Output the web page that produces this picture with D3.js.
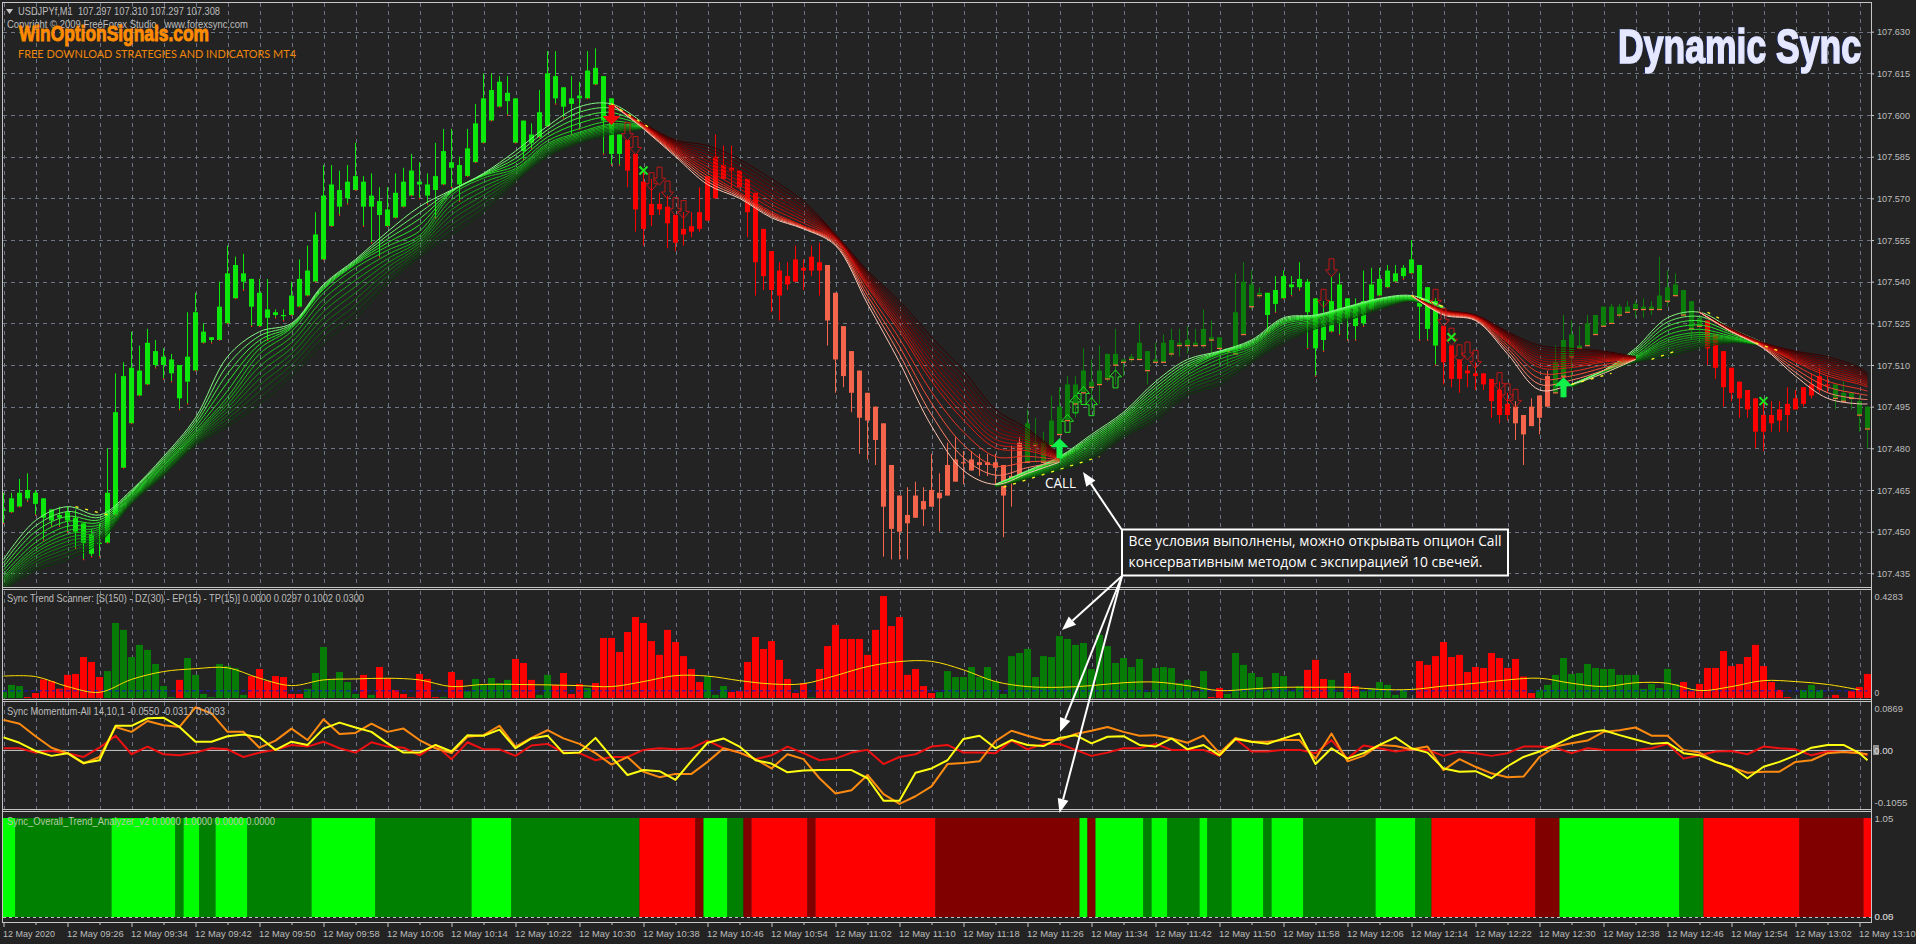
<!DOCTYPE html>
<html><head><meta charset="utf-8">
<script src="https://cdnjs.cloudflare.com/ajax/libs/d3/7.8.5/d3.min.js"></script>
<style>html,body{margin:0;padding:0;background:#232323;overflow:hidden}svg{display:block}text{font-family:"Liberation Sans",sans-serif}</style>
</head><body><svg id="c" width="1916" height="944"></svg>
<script>
// ---------- main chart data: prices in thousandths above 107.000 ----------
const candleTop=[458,462,464,465,464,462,458,456,457,455,
453,449,446,464,493,506,509,508,518,515,
513,512,510,513,529,522,520,531,543,546,
543,541,536,530,529,528,535,541,544,557,
571,575,573,576,578,576,571,569,566,572,
576,580,576,575,578,587,583,582,588,597,
606,609,612,608,606,598,593,601,615,614,
610,606,607,616,617,614,606,593,591,586,
576,568,568,567,564,559,560,565,578,585,
582,581,580,577,572,559,551,544,542,548,
545,549,547,546,536,524,515,508,500,495,
489,474,463,456,463,461,465,464,474,476,
475,476,475,475,475,474,470,482,489,482,
482,490,495,503,503,508,504,508,514,514,
512,513,518,515,512,518,519,518,519,518,
523,520,520,516,529,540,539,536,536,537,
542,539,541,540,534,526,533,539,534,531,
533,539,541,544,543,545,548,546,538,533,
524,517,512,508,507,507,505,501,496,495,
492,495,499,506,511,519,521,517,525,528,
531,531,531,531,532,531,531,535,538,539,
537,533,527,526,521,515,509,504,501,498,
492,492,494,496,498,502,503,506,503,503,
500,500,497,495];
const candleBottom=[458,457,459,462,460,455,454,455,454,450,
446,442,446,446,456,473,489,499,503,510,
510,507,498,504,508,518,519,519,525,534,
540,531,524,527,528,528,528,531,535,540,
548,560,567,570,573,567,567,564,560,563,
567,571,575,571,573,575,581,575,578,583,
590,598,603,605,590,587,590,592,596,606,
603,604,606,606,611,598,586,586,580,566,
559,564,566,561,554,557,558,559,562,570,
577,580,574,565,547,542,537,535,539,540,
544,544,544,526,512,506,500,491,490,483,
459,451,450,453,455,458,459,462,463,468,
475,472,474,474,473,463,468,470,475,481,
475,481,485,490,496,500,502,503,505,510,
511,512,512,508,511,511,514,517,517,517,
517,519,516,515,514,521,531,535,528,532,
534,538,538,529,516,519,522,525,527,524,
525,530,535,538,540,542,543,531,523,517,
511,505,505,507,506,503,497,492,492,489,
485,488,491,495,500,506,513,516,517,521,
524,525,528,529,530,530,530,530,533,535,
528,523,524,516,509,502,500,498,494,486,
486,489,490,492,494,496,499,501,503,498,
497,498,492,487];
const candleHigh=[464,464,469,471,465,462,458,459,459,458,
453,451,453,480,507,511,522,517,523,519,
516,514,510,529,536,525,520,540,553,549,
550,541,541,541,530,530,540,548,553,565,
582,582,580,582,590,578,579,574,574,579,
581,586,583,579,590,595,595,585,595,604,
615,615,614,614,606,598,597,609,623,623,
610,614,612,623,624,614,606,593,591,586,
580,577,572,571,564,565,565,574,578,593,
589,589,580,577,572,559,551,547,547,553,
548,553,554,546,536,524,515,508,500,495,
489,474,463,466,468,466,478,471,482,484,
479,479,478,478,478,474,481,484,494,491,
486,499,502,506,506,516,512,517,514,523,
512,514,525,515,518,521,523,523,524,523,
530,526,520,516,543,547,544,538,536,542,
544,542,547,541,534,533,542,543,534,534,
544,545,545,546,546,546,555,546,538,534,
524,517,512,510,511,507,505,504,500,497,
492,498,499,508,517,528,526,524,528,528,
531,532,532,533,533,534,533,549,544,543,
537,533,527,526,521,515,509,504,501,498,
497,497,497,502,501,502,507,509,506,503,
504,500,499,495];
const candleLow=[453,457,459,461,456,447,452,452,450,444,
440,441,441,446,456,473,489,499,503,509,
505,504,494,496,508,518,518,519,525,534,
537,524,524,519,527,526,528,531,535,540,
548,560,564,568,573,560,554,549,560,563,
567,571,570,568,563,575,574,569,578,583,
590,598,603,600,590,584,588,592,596,604,
599,593,595,606,611,586,582,582,574,558,
553,560,564,552,551,553,556,558,562,570,
577,574,574,556,535,537,529,526,537,540,
537,542,535,517,500,502,493,478,476,474,
441,440,440,440,455,452,459,450,463,468,
467,472,470,470,467,448,459,470,475,475,
475,481,485,490,491,500,494,496,504,503,
506,511,512,503,511,511,513,513,514,517,
516,514,510,510,514,521,530,534,522,529,
534,535,537,516,506,515,522,521,519,519,
524,530,535,538,540,541,543,519,519,510,
503,502,500,502,501,501,491,489,490,483,
474,488,485,495,500,498,505,516,517,521,
524,525,527,529,527,527,528,530,531,535,
528,519,519,510,505,495,497,491,491,480,
479,486,486,486,494,495,498,500,500,494,
497,494,486,480];
// first bar of each run and its state: 0 bright green, 1 dark green, 2 red, 3 salmon
const candleStateStart=[0,78,103,128,158,180,189,194,213,229];
const candleStateCode=[0,2,3,1,0,2,3,1,2,1];

// ribbon envelope read at every 4th bar (null = not drawn)
const ribbonBars=[0,4,8,12,16,20,24,28,32,36,40,44,48,52,56,60,64,68,72,76,80,84,88,92,96,100,104,108,112,116,120,124,128,132,136,140,144,148,152,156,160,164,168,172,176,180,184,188,192,196,200,204,208,212,216,220,224,228,232,233];
const greenRibbonFast=[440,454,459,456,465,477,491,513,522,525,539,548,558,567,573,579,587,596,603,604,597,
null,null,null,null,null,null,null,null,null,null,
467,472,477,485,493,504,512,515,519,527,528,531,534,535,531,null,null,null,503,508,516,527,529,523,518,null,null,null,null];
const greenRibbonWaist=[434,445,451,452,463,474,486,499,515,523,537,546,552,557,572,578,581,590,594,597,596,
null,null,null,null,null,null,null,null,null,null,
467,471,476,482,490,499,508,514,517,525,527,530,533,534,530,null,null,null,503,508,513,520,522,520,517,null,null,null,null];
const greenRibbonSlow=[429,436,440,446,460,470,481,488,496,506,518,527,539,549,557,565,576,585,590,593,595,
null,null,null,null,null,null,null,null,null,null,
466,469,472,476,484,490,499,503,511,518,523,526,530,533,529,null,null,null,502,507,511,513,516,518,517,null,null,null,null];
const redRibbonSlow=[null,null,null,null,null,null,null,null,null,null,null,null,null,null,null,null,null,null,null,
604,597,591,589,584,577,569,557,544,533,520,508,494,487,478,
null,null,null,null,null,null,null,null,null,null,
535,530,528,522,517,516,515,513,null,529,523,518,515,513,509,507];
const redRibbonWaist=[null,null,null,null,null,null,null,null,null,null,null,null,null,null,null,null,null,null,null,
604,596,587,579,572,565,560,555,538,522,504,490,480,479,476,
null,null,null,null,null,null,null,null,null,null,
535,529,527,518,509,509,511,512,null,529,522,517,511,506,503,502];
const redRibbonFast=[null,null,null,null,null,null,null,null,null,null,null,null,null,null,null,null,null,null,null,
604,595,585,575,570,563,559,553,532,511,488,472,467,471,475,
null,null,null,null,null,null,null,null,null,null,
535,528,526,514,501,503,507,512,null,529,522,516,506,498,496,496];
// yellow change-of-trend dashes
const flashFromBar=[9,76,125,176,196,206,213,219];
const flashToBar=[13,81,137,180,201,209,215,222];
const flashFromPrice=[459,604,466,535,503,512,529,518];
const flashToPrice=[456,595,477,531,507,515,526,515];

// signal arrows
const bigUpBars=[132,195], bigUpPrices=[480,502];
const bigDownBars=[76], bigDownPrices=[600];
const hollowUpBars=[133,134,135,136,139], hollowUpPrices=[489,496,499,495,505];
const hollowDownBars=[78,79,81,82,83,84,85,165,166,179,180,181,182,183,184,187,188,189];
const hollowDownPrices=[594,589,576,578,573,567,566,534,545,534,527,520,514,515,512,504,500,498];
const crossBars=[80,181,220], crossPrices=[580,520,497];

// Sync Trend Scanner histogram
const scannerValues=[.027,.055,.050,.004,.021,.078,.071,.039,.097,.101,
.172,.151,.088,.113,.315,.286,.172,.223,.202,.143,
.050,.004,.076,.168,.097,.017,.004,.143,.134,.125,
.013,.092,.122,.071,.092,.088,.017,.017,.038,.105,
.214,.080,.109,.067,.017,.097,.013,.130,.084,.034,
.017,.003,.101,.080,.004,.004,.109,.076,.029,.080,
.055,.084,.063,.076,.164,.147,.076,.013,.097,.055,
.105,.017,.059,.042,.063,.252,.252,.193,.277,.340,
.315,.239,.181,.286,.235,.176,.122,.067,.092,.013,
.050,.025,.029,.151,.256,.206,.239,.160,.080,.021,
.063,.003,.122,.218,.307,.248,.248,.248,.181,.286,
.428,.302,.340,.097,.122,.050,.021,.025,.113,.088,
.088,.130,.088,.130,.071,.017,.176,.189,.206,.088,
.176,.172,.260,.248,.223,.231,.122,.265,.218,.147,
.168,.130,.164,.025,.126,.130,.126,.063,.076,.029,
.113,.004,.042,.017,.189,.139,.105,.088,.034,.105,
.092,.029,.050,.118,.160,.080,.076,.025,.105,.050,
.029,.042,.067,.055,.013,.034,.001,.155,.139,.176,
.235,.172,.181,.109,.130,.126,.189,.168,.126,.164,
.090,.021,.034,.055,.097,.168,.101,.105,.143,.126,
.122,.122,.097,.097,.097,.038,.059,.042,.122,.059,
.067,.029,.059,.126,.126,.197,.134,.143,.172,.223,
.134,.067,.034,.004,.001,.034,.055,.034,.001,.013,
.001,.029,.046,.101];
// first bar of each run, alternating green / red, beginning green
const scannerRunStart=[0,3,13,22,23,31,38,45,46,47,55,56,58,64,67,69,73,74,88,91,101,102,117,151,153,163,166,168,170,177,192,210,224,228];
const scannerSignal=[.092,.090,.048,.024,.078,.111,.123,.127,.083,.052,.076,.080,.083,.076,.048,.057,.057,.055,.052,.048,.069,.094,.092,.073,.059,.060,.094,.132,.153,.154,.118,.069,.048,.045,.052,.064,.067,.052,.031,.038,.045,.045,.045,.036,.036,.050,.062,.076,.083,.062,.048,.064,.062,.031,.048,.073,.069,.057,.034];
const scannerLevel=[0.03];

// Sync Momentum-All, read at every 2nd bar plus the last bar (thousandths)
const momentumYellow=[24,14,-1,-10,-5,-23,-18,45,45,59,60,43,16,16,26,29,24,1,16,10,40,51,42,34,13,-4,-4,10,-2,28,27,38,4,22,27,-5,-4,23,-12,-45,
-36,-38,-54,-19,14,22,7,-18,-24,-40,-37,-36,-36,-36,-51,-92,-92,-41,-33,-18,21,27,4,19,10,8,23,28,13,25,26,10,7,22,2,10,-9,21,16,12,
22,31,-25,4,-15,-5,10,24,4,-4,-33,-39,-38,-51,-29,-12,-2,10,25,34,37,28,20,12,14,-5,-9,-21,-30,-51,-30,-21,-9,5,10,10,-5,-18];
const momentumOrange=[56,49,26,5,-5,-24,-12,43,34,54,46,43,79,68,34,34,5,18,40,19,57,30,32,49,34,40,19,4,-5,25,28,45,7,23,37,22,12,-5,-26,-12,
-39,-49,-43,-43,-21,4,-4,-16,-33,-7,-16,-51,-79,-73,-45,-80,-98,-84,-66,-25,-23,-20,17,36,27,19,19,30,36,43,34,27,28,22,14,27,-5,23,16,16,
19,19,-15,31,-20,-10,10,8,2,7,-36,-16,-30,-42,-49,-48,-12,7,13,18,34,37,42,27,27,1,-4,-21,-31,-41,-39,-39,-21,-18,-5,-3,-5,-7];
const momentumRed=[4,4,-4,-1,-5,-12,5,27,-7,7,-7,-9,-4,4,2,-12,-4,1,10,7,16,4,-4,15,7,5,-9,10,-16,15,2,2,-10,9,12,-4,-5,-18,-12,-12,
1,4,2,4,18,4,-4,-16,-9,7,-5,-18,-15,-4,1,-25,-12,-7,7,10,-4,-4,-5,18,2,12,12,1,-10,-4,4,4,12,1,1,1,-10,21,-2,-2,
1,1,-5,19,-15,9,4,-2,2,1,-10,-2,-5,-10,-5,7,7,5,-5,4,1,1,1,4,12,-15,-9,-2,-1,-7,7,4,2,-9,-2,-3,-4,-9];

// Sync_Overall_Trend_Analyzer: first bar of each block and its colour code
const trendStart=[0,2,14,22,23,25,27,31,39,47,59,64,80,87,88,91,93,94,101,102,117,135,136,137,143,144,146,150,151,154,158,159,163,172,177,179,192,195,210,213,225,233];
const trendCode=[0,1,0,1,0,1,0,1,0,1,0,1,2,3,0,1,3,2,3,2,3,0,3,0,1,0,1,0,1,0,1,0,1,0,1,2,3,0,1,2,3,2];

const priceTicks=[630,615,600,585,570,555,540,525,510,495,480,465,450,435];
const timeLabels=["12 May 2020","12 May 09:26","12 May 09:34","12 May 09:42","12 May 09:50","12 May 09:58","12 May 10:06","12 May 10:14","12 May 10:22","12 May 10:30","12 May 10:38","12 May 10:46","12 May 10:54","12 May 11:02","12 May 11:10","12 May 11:18","12 May 11:26","12 May 11:34","12 May 11:42","12 May 11:50","12 May 11:58","12 May 12:06","12 May 12:14","12 May 12:22","12 May 12:30","12 May 12:38","12 May 12:46","12 May 12:54","12 May 13:02","12 May 13:10"];

// ---------- scales ----------
const W=1916,H=944,axisX=1871;
const svg=d3.select("#c");
const barCount=candleTop.length;
const x=d3.scaleLinear().domain([0,barCount-1]).range([3.5,3.5+8*(barCount-1)]);
const y=d3.scaleLinear().domain([435,630]).range([573.3,31.7]);
const yScan=d3.scaleLinear().domain([0,.4283]).range([698,596]);
const yMom=d3.scaleLinear().domain([-105.5,86.9]).range([808,703]);
const yTrend=d3.scaleLinear().domain([0,1]).range([917,818]);
const bars=d3.range(barCount);
const GRID="#6c7684",AX="#c6c6c6",TXT="#bdbdbd",CW=4.72,AF=9.6;

svg.append("rect").attr("width",W).attr("height",H).attr("fill","#232323");
const defs=svg.append("defs");
defs.append("clipPath").attr("id","mainClip").append("rect").attr("x",3).attr("y",3).attr("width",axisX-3).attr("height",584);
defs.append("clipPath").attr("id","rightClip").append("rect").attr("x",3).attr("y",0).attr("width",axisX-3).attr("height",H);

// ---------- grid ----------
const grid=svg.append("g").attr("stroke",GRID).attr("stroke-width",1).attr("stroke-dasharray","4 4");
const gridBars=bars.filter(k=>k%4===0);
[[3,587],[591,699],[702,809]].forEach(([a,b])=>{
  grid.append("g").selectAll("line").data(gridBars).join("line").attr("x1",k=>Math.round(x(k))+.5).attr("x2",k=>Math.round(x(k))+.5).attr("y1",a).attr("y2",b);
});
grid.append("g").selectAll("line").data(priceTicks).join("line").attr("x1",3).attr("x2",axisX).attr("y1",v=>Math.round(y(v))+.5).attr("y2",v=>Math.round(y(v))+.5);

// ---------- candles ----------
const stateOf=k=>{let s=0;candleStateStart.forEach((b,i)=>{if(k>=b)s=candleStateCode[i]});return s};
const candleColor=["#0ce80c","#0a7d0a","#ff0000","#f4654c"];
const main=svg.append("g").attr("clip-path","url(#mainClip)");
main.append("g").selectAll("line").data(bars).join("line")
  .attr("x1",k=>x(k)).attr("x2",k=>x(k)).attr("y1",k=>y(candleHigh[k])).attr("y2",k=>y(candleLow[k]))
  .attr("stroke",k=>candleColor[stateOf(k)]).attr("stroke-width",1);
main.append("g").selectAll("rect").data(bars).join("rect")
  .attr("x",k=>x(k)-2.5).attr("width",5)
  .attr("y",k=>y(candleTop[k])).attr("height",k=>Math.max(1.2,y(candleBottom[k])-y(candleTop[k])))
  .attr("fill",k=>candleColor[stateOf(k)]);
// coloured foot of the green candles
main.append("g").selectAll("rect").data(bars.filter(k=>stateOf(k)===0)).join("rect")
  .attr("x",k=>x(k)-.5).attr("width",1.2).attr("y",k=>y(candleLow[k])-.5).attr("height",1.4).attr("fill","#ff2020");
main.append("g").selectAll("rect").data(bars.filter(k=>stateOf(k)===1)).join("rect")
  .attr("x",k=>x(k)-2.5).attr("width",5).attr("y",k=>y(candleBottom[k])-.5).attr("height",1.2).attr("fill","#ff7040");

// ---------- ribbons ----------
const ribbonLines=14;
const greenRamp=d3.scaleLinear().domain([0,.22,.6,1]).range(["#86f886","#28ea28","#129a12","#0a3a0a"]);
const redRamp=d3.scaleLinear().domain([0,.35,.7,.88,1]).range(["#3a0000","#8c0000","#e01a10","#ff5a40","#ffc6b4"]);
function drawRibbon(a,w,b,ramp,tw){
  const g=main.append("g").attr("fill","none").attr("stroke-width",1);
  const at=(j,t)=>t<tw?a[j]+(w[j]-a[j])*t/tw:w[j]+(b[j]-w[j])*(t-tw)/(1-tw);
  d3.range(ribbonLines).forEach(i=>{
    const t=i/(ribbonLines-1);
    const line=d3.line().defined(j=>a[j]!==null).x(j=>x(ribbonBars[j])).y(j=>y(at(j,t))).curve(d3.curveCatmullRom.alpha(.5));
    g.append("path").attr("d",line(d3.range(ribbonBars.length))).attr("stroke",ramp(t));
  });
}
drawRibbon(greenRibbonSlow,greenRibbonWaist,greenRibbonFast,t=>greenRamp(1-t),.65);
drawRibbon(redRibbonSlow,redRibbonWaist,redRibbonFast,redRamp,.7);
main.append("g").selectAll("line").data(flashFromBar.map((b,i)=>i)).join("line")
  .attr("x1",i=>x(flashFromBar[i])).attr("x2",i=>x(flashToBar[i])).attr("y1",i=>y(flashFromPrice[i])).attr("y2",i=>y(flashToPrice[i]))
  .attr("stroke","#ffff20").attr("stroke-width",1.3).attr("stroke-dasharray","3 7");

// ---------- signal arrows ----------
const upHollow="M0,-9 L6,-2 L2.5,-2 L2.5,9 L-2.5,9 L-2.5,-2 L-6,-2 Z";
const dnHollow="M0,9 L6,2 L2.5,2 L2.5,-9 L-2.5,-9 L-2.5,2 L-6,2 Z";
const upBig="M0,-10 L9,-1 L3,-1 L3,10 L-3,10 L-3,-1 L-9,-1 Z";
const dnBig="M0,10 L9,1 L3,1 L3,-10 L-3,-10 L-3,1 L-9,1 Z";
function arrows(bs,ps,d,fill,stroke){
  main.append("g").selectAll("path").data(bs.map((b,i)=>i)).join("path").attr("d",d)
    .attr("transform",i=>`translate(${x(bs[i])},${y(ps[i])})`).attr("fill",fill).attr("stroke",stroke).attr("stroke-width",1);
}
arrows(hollowUpBars,hollowUpPrices,upHollow,"none","#1fe01f");
arrows(hollowDownBars,hollowDownPrices,dnHollow,"none","#c01616");
arrows(bigUpBars,bigUpPrices,upBig,"#12f04a","none");
arrows(bigDownBars,bigDownPrices,dnBig,"#f00808","none");
main.append("g").selectAll("path").data(crossBars.map((b,i)=>i)).join("path").attr("d","M-4,-4L4,4M-4,4L4,-4")
  .attr("transform",i=>`translate(${x(crossBars[i])},${y(crossPrices[i])})`).attr("stroke","#1de81d").attr("stroke-width",2).attr("fill","none");

// ---------- scanner ----------
const scanColor=k=>{let c=0;scannerRunStart.forEach((b,i)=>{if(k>=b)c=i%2});return c?"#ff0000":"#067c06"};
const clipG=svg.append("g").attr("clip-path","url(#rightClip)");
clipG.append("g").selectAll("rect").data(bars).join("rect")
  .attr("x",k=>x(k)-3.5).attr("width",7).attr("y",k=>yScan(scannerValues[k])).attr("height",k=>yScan(0)-yScan(scannerValues[k]))
  .attr("fill",k=>scanColor(k));
clipG.append("line").attr("x1",3).attr("x2",x(barCount-1)).attr("y1",yScan(scannerLevel[0])).attr("y2",yScan(scannerLevel[0]))
  .attr("stroke","#1616c8").attr("stroke-width",1).attr("stroke-dasharray","4 3");
clipG.append("path").attr("fill","none").attr("stroke","#ffe000").attr("stroke-width",1)
  .attr("d",d3.line().x((v,i)=>x(i*4)).y(v=>yScan(v)).curve(d3.curveCatmullRom)(scannerSignal));

// ---------- momentum ----------
clipG.append("line").attr("x1",3).attr("x2",axisX).attr("y1",yMom(0)).attr("y2",yMom(0)).attr("stroke","#c8c8c8").attr("stroke-width",1);
const momBars=d3.range(0,barCount-1,2).concat([barCount-1]);
const momLine=d3.line().x((v,i)=>x(momBars[i])).y(v=>yMom(v));
[[momentumRed,"#ee1010"],[momentumOrange,"#ff8a10"],[momentumYellow,"#ffff10"]].forEach(([s,c])=>{
  clipG.append("path").attr("fill","none").attr("stroke",c).attr("stroke-width",2).attr("stroke-linejoin","round").attr("d",momLine(s));
});

// ---------- trend analyzer ----------
const trendColor=["#00ff00","#008000","#ff0000","#800000"];
clipG.append("line").attr("x1",3).attr("x2",axisX).attr("y1",917.5).attr("y2",917.5).attr("stroke","#c0c0c0").attr("stroke-dasharray","3 3");
clipG.append("g").selectAll("rect").data(trendStart.map((b,i)=>i)).join("rect")
  .attr("x",i=>x(trendStart[i])-4).attr("width",i=>8*((trendStart[i+1]??barCount)-trendStart[i]))
  .attr("y",yTrend(1)).attr("height",yTrend(0)-yTrend(1)).attr("fill",i=>trendColor[trendCode[i]]);

// ---------- frames ----------
const frame=svg.append("g").attr("stroke",AX).attr("stroke-width",1);
[[2.5],[587.5],[589.5],[699.5],[701.5],[809.5],[811.5],[922.5]].forEach(([v])=>{
  frame.append("line").attr("x1",2).attr("x2",axisX).attr("y1",v).attr("y2",v);
});
frame.append("line").attr("x1",2.5).attr("x2",2.5).attr("y1",2).attr("y2",923);
frame.append("line").attr("x1",axisX+.5).attr("x2",axisX+.5).attr("y1",2).attr("y2",923);

// ---------- axes ----------
function styleAxis(g){g.selectAll(".domain").remove();g.selectAll("line").attr("stroke",AX);
  g.selectAll("text").attr("fill",TXT).attr("font-size",AF).attr("font-family","'Liberation Sans',sans-serif")
   .attr("lengthAdjust","spacingAndGlyphs").attr("textLength",function(){return this.textContent.length*CW})}
svg.append("g").attr("transform",`translate(${axisX},0)`)
  .call(d3.axisRight(y).tickValues(priceTicks).tickSize(3).tickPadding(3).tickFormat(v=>d3.format(".3f")(107+v/1000))).call(styleAxis);
const tx=svg.append("g").attr("transform","translate(0,923)")
  .call(d3.axisBottom(x).tickValues(bars.filter(k=>k%8===0)).tickSize(4).tickPadding(0).tickFormat((k,i)=>timeLabels[i])).call(styleAxis);
tx.selectAll("text").attr("text-anchor","start").attr("dx",-1).attr("y",0).attr("dy",14);
svg.append("g").attr("transform","translate(0,923)").call(d3.axisBottom(x).tickValues(bars.filter(k=>k%8===4)).tickSize(2).tickFormat("")).call(styleAxis);

const sideLabels=[["0.4283",596.5],["0",692.5],["0.0869",709],["-0.1055",802.5],["1.05",819],["0.05",917],["0.00",917]];
svg.append("g").selectAll("text").data(sideLabels).join("text").attr("x",1874.5).attr("y",d=>d[1]).attr("dy",".35em").attr("fill",TXT).attr("font-size",AF)
  .attr("lengthAdjust","spacingAndGlyphs").attr("textLength",d=>d[0].length*CW).text(d=>d[0]);
svg.append("rect").attr("x",1873).attr("y",745).attr("width",6).attr("height",10).attr("fill","#8c8c8c");
svg.append("text").attr("x",1874).attr("y",yMom(0)).attr("dy",".35em").attr("fill","#dcdcdc").attr("font-size",AF).attr("lengthAdjust","spacingAndGlyphs").attr("textLength",19).text("0.00");

// ---------- captions ----------
function label(t,xx,yy,w,c,fs,extra){const e=svg.append("text").attr("x",xx).attr("y",yy).attr("dy",".35em").attr("fill",c).attr("font-size",fs).text(t);
  if(w)e.attr("textLength",w).attr("lengthAdjust","spacingAndGlyphs");if(extra)extra(e);return e}
svg.append("path").attr("d","M6,9 L13,9 L9.5,14 Z").attr("fill","#c8c8c8");
label("USDJPYf,M1  107.297 107.310 107.297 107.308",18,11,202,TXT,11.5).style("white-space","pre");
label("Copyright © 2009 FreeForex Studio,  www.forexsync.com",7,24,241,TXT,11.5).style("white-space","pre");
label("Sync Trend Scanner: [S(150) - DZ(30) - EP(15) - TP(15)] 0.0000 0.0297 0.1002 0.0300",7,598,357,TXT,11.5);
label("Sync Momentum-All 14,10,1 -0.0550 -0.0317 0.0093",7,711,218,TXT,11.5);
label("Sync_Overall_Trend_Analyzer_v2 0.0000 1.0000 0.0000 0.0000",7,821,268,"#b6c8a8",11.5);
svg.append("text").attr("x",19).attr("y",40.5).attr("fill","#ff8c00").attr("stroke","#ff8c00").attr("stroke-width",.9).attr("font-weight","bold").attr("font-size",22.5)
  .attr("textLength",190).attr("lengthAdjust","spacingAndGlyphs").text("WinOptionSignals.com");
label("FREE DOWNLOAD STRATEGIES AND INDICATORS MT4",18,54,278,"#f0860a",11.5,e=>e.style("font-family","Lato"));
svg.append("text").attr("x",1618).attr("y",63).attr("fill","#e6e8ff").attr("stroke","#e6e8ff").attr("stroke-width",1.6).attr("font-weight","bold").attr("font-size",48)
  .attr("textLength",243).attr("lengthAdjust","spacingAndGlyphs").style("filter","drop-shadow(-1px 0 0 #16286a)").text("Dynamic Sync");

// ---------- annotation ----------
const note=svg.append("g");
function pointer(x1,y1,x2,y2){
  const a=Math.atan2(y2-y1,x2-x1),L=14,w=5.5;
  const bx=x2-L*Math.cos(a),by=y2-L*Math.sin(a);
  note.append("line").attr("x1",x1).attr("y1",y1).attr("x2",bx).attr("y2",by).attr("stroke","#fff").attr("stroke-width",2);
  note.append("path").attr("fill","#fff").attr("d",`M${x2},${y2}L${bx-w*Math.sin(a)},${by+w*Math.cos(a)}L${bx+w*Math.sin(a)},${by-w*Math.cos(a)}Z`);
}
pointer(1122,530,1083,472);
pointer(1122,576,1062,630);
pointer(1122,576,1060,732);
pointer(1122,576,1059.5,813);
note.append("rect").attr("x",1122).attr("y",529.5).attr("width",386).attr("height",46).attr("fill","#232323").attr("stroke","#fff").attr("stroke-width",2);
label("CALL",1045,483,31,"#fff",14,e=>e.style("font-family","'Open Sans'"));
label("Все условия выполнены, можно открывать опцион Call",1128.5,541,373,"#fff",14.5,e=>e.style("font-family","'Open Sans'"));
label("консервативным методом с экспирацией 10 свечей.",1128.5,562,354,"#fff",14.5,e=>e.style("font-family","'Open Sans'"));
</script></body></html>
